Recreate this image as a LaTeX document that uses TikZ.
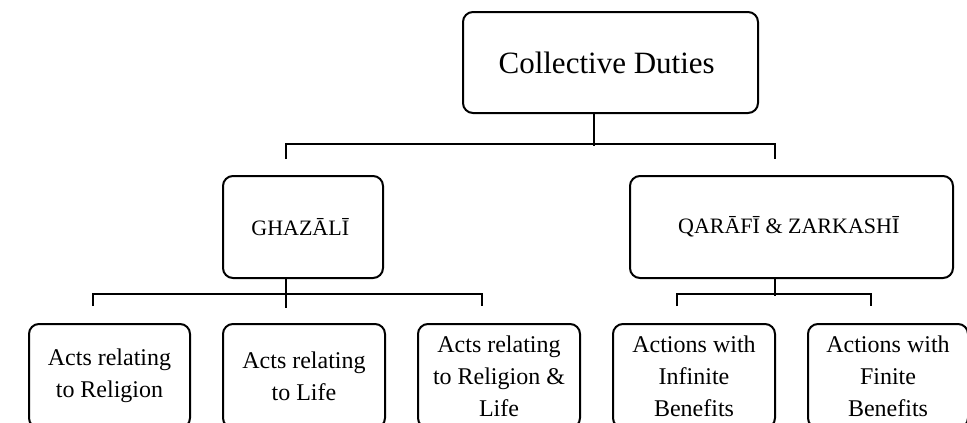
\documentclass[tikz,border=0pt]{standalone}
\usepackage{fontspec}
\setmainfont{Liberation Serif}

\begin{document}
\begin{tikzpicture}[x=1pt,y=1pt,
	caja/.style={draw=black, line width=2pt, rounded corners=10pt, align=center, inner sep=0pt},
	linea/.style={line width=2pt}]
	
	\useasboundingbox (0,0) rectangle (967,-423);
	
	% Collective duties
	\draw (610.5,-62.5) node[caja, minimum width=295pt, minimum height=101pt, font=\fontsize{31}{36}\selectfont] (deberes)
	{
		Collective Duties
	};
	
	% Ghazali
	\draw (303,-227) node[caja, minimum width=160pt, minimum height=102pt, font=\fontsize{22}{28}\selectfont] (ghazali)
	{
		GHAZĀLĪ
	};
	
	% Qarafi y Zarkashi
	\draw (791.5,-227) node[caja, minimum width=323pt, minimum height=102pt, font=\fontsize{22}{28}\selectfont] (qarafi)
	{
		QARĀFĪ \& ZARKASHĪ
	};
	
	% Acts
	\draw (109.5,-376) node[caja, minimum width=161pt, minimum height=104pt, font=\fontsize{24}{32}\selectfont] (religion)
	{
		Acts relating \\ to Religion
	};
	
	\draw (304,-376) node[caja, minimum width=162pt, minimum height=104pt, font=\fontsize{24}{32}\selectfont] (vida)
	{
		Acts relating \\ to Life
	};
	
	\draw (499,-376) node[caja, minimum width=162pt, minimum height=104pt, font=\fontsize{24}{32}\selectfont] (ambos)
	{
		Acts relating \\ to Religion \& \\ Life
	};
	
	% Actions
	\draw (694,-376) node[caja, minimum width=162pt, minimum height=104pt, font=\fontsize{24}{32}\selectfont] (infinitos)
	{
		Actions with \\ Infinite \\ Benefits
	};
	
	\draw (888,-376) node[caja, minimum width=160pt, minimum height=104pt, font=\fontsize{24}{32}\selectfont] (finitos)
	{
		Actions with \\ Finite \\ Benefits
	};
	
	
	% Lineas
	
	\draw [linea] ([xshift=-17pt]deberes.south) -- ++(0,-32);
	\draw [linea] ([xshift=-17pt,yshift=16pt]ghazali.north) -- ++(0,15) -| ([xshift=-17pt,yshift=16pt]qarafi.north);
	
	\draw [linea] ([xshift=-17pt]ghazali.south) -- ++(0,-29);
	\draw [linea] ([xshift=-17pt,yshift=17pt]religion.north) -- ++(0,12) -| ([xshift=-17pt,yshift=17pt]ambos.north);
	
	\draw [linea] ([xshift=-17pt]qarafi.south) -- ++(0,-17);
	\draw [linea] ([xshift=-17pt,yshift=17pt]infinitos.north) -- ++(0,12) -| ([xshift=-17pt,yshift=17pt]finitos.north);
	
\end{tikzpicture}
\end{document}
